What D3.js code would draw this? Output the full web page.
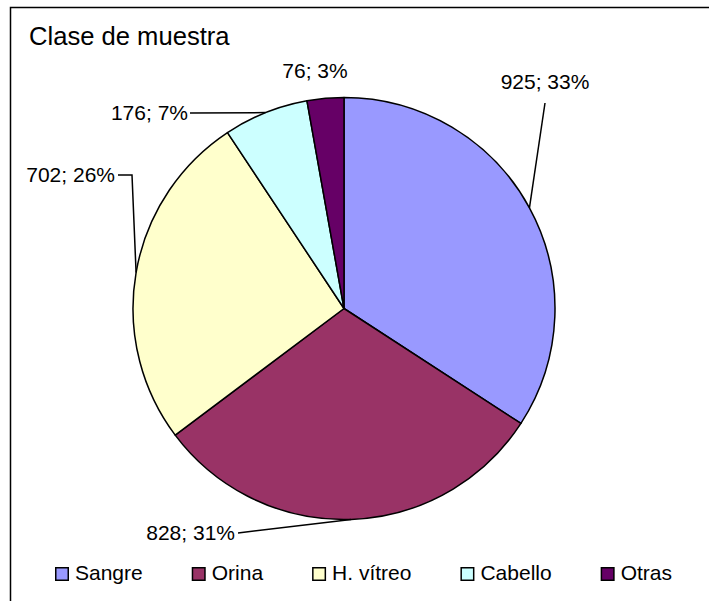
<!DOCTYPE html>
<html>
<head>
<meta charset="utf-8">
<script src="https://cdn.jsdelivr.net/npm/d3@7"></script>
<style>
  body { margin: 0; background: #fff; }
  text { font-family: "Liberation Sans", Arial, sans-serif; fill: #000; }
</style>
</head>
<body>
<div id="chart"></div>
<script>
    var categories = ["Sangre", "Orina", "H. vítreo", "Cabello", "Otras"];
    var values = [925, 828, 702, 176, 76];
    var percentLabels = ["33%", "31%", "26%", "7%", "3%"];
    var colors = ["#9999ff", "#993366", "#ffffcc", "#ccffff", "#660066"];

    var fullWidth = 709;
    var fullHeight = 601;
    var cx = 344, cy = 308.5, radius = 211;

    // where each data label sits, and the bends of its leader line
    var labelLayout = {
        "Sangre":    {x: 545, y: 89,  anchor: "middle", lead: [[545, 103]]},
        "Orina":     {x: 235, y: 540, anchor: "end",    lead: [[238, 533]]},
        "H. vítreo": {x: 115, y: 182, anchor: "end",    lead: [[118, 175], [132, 175]]},
        "Cabello":   {x: 188, y: 120, anchor: "end",    lead: [[190, 113]]},
        "Otras":     {x: 315, y: 78,  anchor: "middle", lead: []}
    };

    var data = categories.map(function(c, i) {
        return {cat: c, value: values[i], pct: percentLabels[i], color: colors[i]};
    });

    var svg = d3.select("#chart")
                .append("svg")
                .attr("width", fullWidth)
                .attr("height", fullHeight);

    // chart border (right and bottom edges fall outside the picture)
    svg.append("rect")
        .attr("x", 10.5)
        .attr("y", 7.5)
        .attr("width", 760)
        .attr("height", 660)
        .attr("fill", "#fff")
        .attr("stroke", "#000")
        .attr("stroke-width", 1.5);

    svg.append("text")
        .attr("x", 29)
        .attr("y", 45)
        .style("font-size", "25.6px")
        .text("Clase de muestra");

    var pie = d3.pie()
                .sort(null)
                .value(function(d) { return d.value; });

    var arc = d3.arc()
                .innerRadius(0)
                .outerRadius(radius);

    var arcs = pie(data);

    var g = svg.append("g")
                .attr("transform", "translate(" + cx + "," + cy + ")");

    g.selectAll("path.slice")
        .data(arcs)
        .enter()
        .append("path")
        .attr("class", "slice")
        .attr("d", arc)
        .attr("fill", function(d) { return d.data.color; })
        .attr("stroke", "#000")
        .attr("stroke-width", 1.5)
        .attr("stroke-linejoin", "round");

    function edgePoint(d) {
        var a = (d.startAngle + d.endAngle) / 2;
        return [cx + radius * Math.sin(a), cy - radius * Math.cos(a)];
    }

    var line = d3.line();

    arcs.forEach(function(d) {
        var lay = labelLayout[d.data.cat];
        if (lay.lead.length) {
            var pts = lay.lead.concat([edgePoint(d)]);
            svg.append("path")
                .attr("d", line(pts))
                .attr("fill", "none")
                .attr("stroke", "#000")
                .attr("stroke-width", 1.5);
        }
        svg.append("text")
            .attr("x", lay.x)
            .attr("y", lay.y)
            .attr("text-anchor", lay.anchor)
            .style("font-size", "21px")
            .text(d.data.value + "; " + d.data.pct);
    });

    // legend
    var legend = svg.append("g").attr("class", "legend");
    var lx = 55;
    data.forEach(function(d) {
        var item = legend.append("g").attr("transform", "translate(" + lx + ",0)");
        item.append("rect")
            .attr("x", 0.75)
            .attr("y", 567.75)
            .attr("width", 12.5)
            .attr("height", 12.5)
            .attr("fill", d.color)
            .attr("stroke", "#000")
            .attr("stroke-width", 1.5);
        var t = item.append("text")
            .attr("x", 20)
            .attr("y", 580)
            .style("font-size", "21px")
            .text(d.cat);
        lx += 20 + t.node().getComputedTextLength() + 49;
    });
</script>
</body>
</html>
